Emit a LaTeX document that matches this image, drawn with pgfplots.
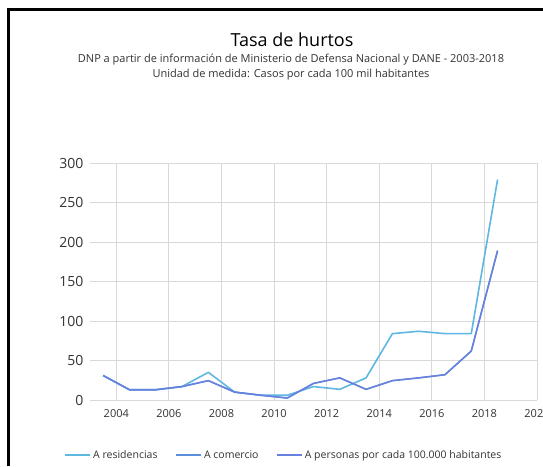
\documentclass[border=0pt]{standalone}
\usepackage{pgfplots}
\pgfplotsset{compat=1.18}
\usepackage{fontspec}
\setmainfont{Open Sans}
\definecolor{cres}{HTML}{5EB8E2}
\definecolor{ccom}{HTML}{5B8FDC}
\definecolor{cper}{HTML}{6A80DE}
\definecolor{gridc}{HTML}{D9D9D9}
\definecolor{txt}{HTML}{333333}

\begin{document}
\begin{tikzpicture}[x=1pt,y=1pt]
\useasboundingbox (0,0) rectangle (543,466);
\fill[white] (0,0) rectangle (543,466);
% the panel's frame, cut by the screenshot on the right and bottom
\draw[black, line width=2.5pt] (8.5,0) -- (8.5,456.5) -- (543,456.5);
\node[font=\fontsize{18}{21}\selectfont] at (292,426) {Tasa de hurtos};
\node[font=\fontsize{11}{13}\selectfont, txt] at (291,406)
  {DNP a partir de información de Ministerio de Defensa Nacional y DANE - 2003-2018};
\node[font=\fontsize{11}{13}\selectfont, txt] at (291,391)
  {Unidad de medida: Casos por cada 100 mil habitantes};
\begin{axis}[
  at={(90pt,66pt)}, anchor=south west, scale only axis,
  width=447pt, height=237pt,
  xmin=2003, xmax=2020, ymin=0, ymax=300,
  xtick={2004,2006,...,2020}, ytick={0,50,...,300},
  /pgf/number format/assume math mode=true,
  xticklabel style={font=\fontsize{11}{13}\selectfont, txt, yshift=-6pt,
    /pgf/number format/.cd, fixed, 1000 sep={}},
  yticklabel style={font=\fontsize{14}{16}\selectfont, txt, xshift=-3pt},
  major tick length=0pt,
  axis line style={draw=none},
  grid=major, grid style={gridc, line width=0.8pt},
  legend columns=3,
  legend style={at={(0.434,-0.232)}, anchor=center, draw=none, fill=none,
    font=\fontsize{10.5}{12}\selectfont, text=txt,
    /tikz/every even column/.append style={column sep=16pt}},
  legend image code/.code={\draw[#1] (0pt,0pt) -- (25pt,0pt);},
  every axis plot/.append style={line width=1.6pt, line join=round},
  ]
  \addplot[cres] coordinates {
    (2003.5,31) (2004.5,13) (2005.5,13) (2006.5,17) (2007.5,35) (2008.5,10)
    (2009.5,6) (2010.5,6) (2011.5,17) (2012.5,13.5) (2013.5,28) (2014.5,84)
    (2015.5,87) (2016.5,84) (2017.5,84) (2018.5,279)};
  \addlegendentry{A residencias}
  \addplot[ccom] coordinates {
    (2003.5,31) (2004.5,13) (2005.5,13) (2006.5,17) (2007.5,24.5) (2008.5,10)
    (2009.5,6) (2010.5,2.5) (2011.5,21) (2012.5,28) (2013.5,13.5) (2014.5,24.5)
    (2015.5,28) (2016.5,32) (2017.5,62) (2018.5,189)};
  \addlegendentry{A comercio}
  \addplot[cper, line width=1.3pt] coordinates {
    (2003.5,31) (2004.5,13) (2005.5,13) (2006.5,17) (2007.5,24.5) (2008.5,10)
    (2009.5,6) (2010.5,2.5) (2011.5,21) (2012.5,28) (2013.5,13.5) (2014.5,24.5)
    (2015.5,28) (2016.5,32) (2017.5,62) (2018.5,189)};
  \addlegendentry{A personas por cada 100.000 habitantes}
\end{axis}
\end{tikzpicture}
\end{document}
